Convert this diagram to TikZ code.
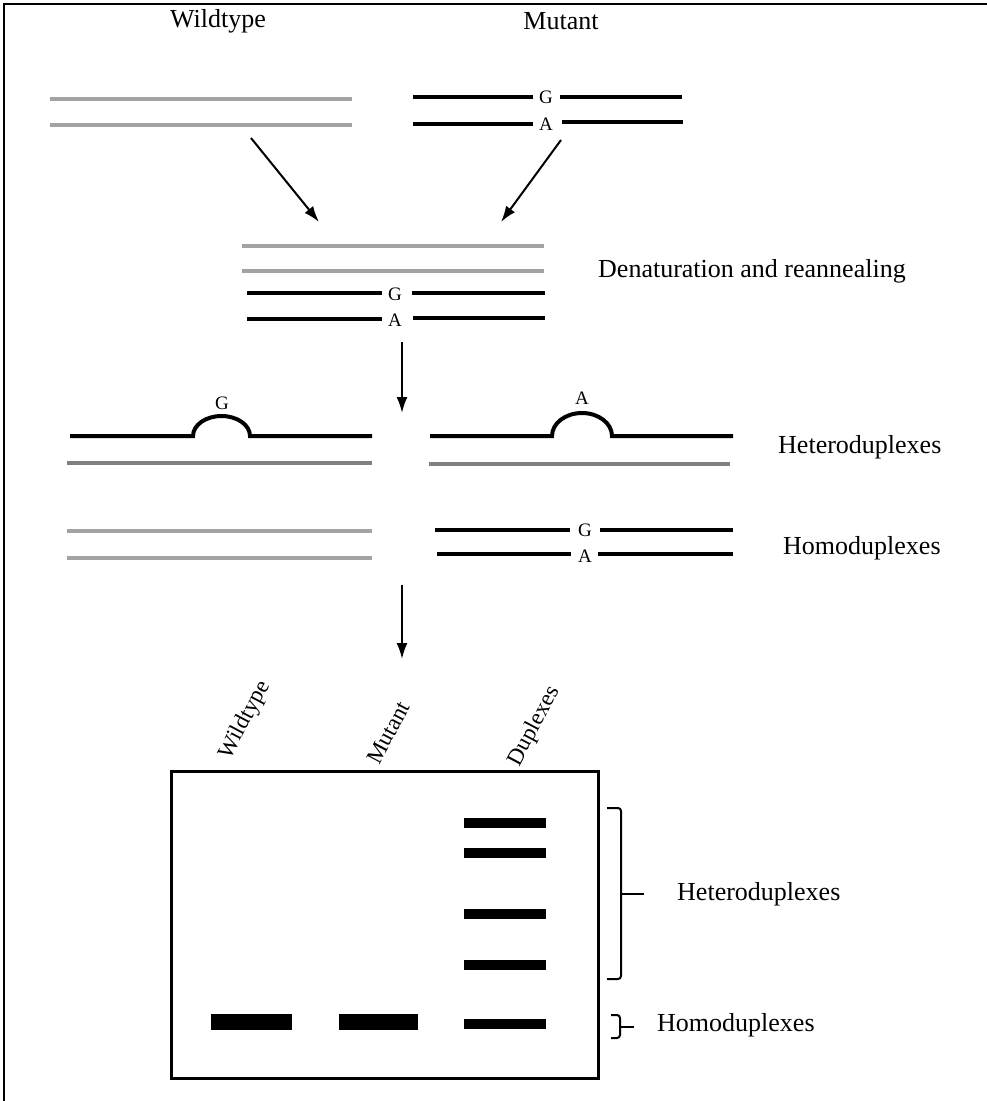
\documentclass[tikz,border=0pt]{standalone}
\usepackage{fontspec}
\setmainfont{Liberation Serif}
\usetikzlibrary{arrows.meta}
\definecolor{lgray}{HTML}{A3A3A3}
\definecolor{dgray}{HTML}{808080}
\tikzset{
  strand/.style={line width=4pt, black},
  wtl/.style={line width=4pt, lgray},
  wtd/.style={line width=4pt, dgray},
  base/.style={font=\fontsize{19}{22}\selectfont, inner sep=0pt},
  lab/.style={font=\fontsize{26}{30}\selectfont, inner sep=0pt, anchor=west},
  toplab/.style={font=\fontsize{26}{30}\selectfont, inner sep=0pt},
  lane/.style={font=\fontsize{23}{27}\selectfont, inner sep=1pt, rotate=62, anchor=south west},
  arr/.style={line width=2pt, -{Latex[length=16pt,width=11pt]}},
  band/.style={fill=black, draw=none},
  brk/.style={line width=2pt, rounded corners=3pt},
}
\begin{document}
\begin{tikzpicture}[x=1pt,y=-1pt]
\useasboundingbox (0,0) rectangle (987,1101);
% frame
\draw[line width=2.5pt] (987,4) -- (4,4) -- (4,1101);

% top labels
\node[toplab] (wt) at (218,21) {Wildtype};
\node[toplab] (mu) at (561,21) {Mutant};

% wildtype strands
\draw[wtl] (50,99) -- (352,99);
\draw[wtl] (50,125) -- (352,125);

% mutant strands
\node[base] (g1) at (546,97) {G};
\node[base] (a1) at (546,124) {A};
\draw[strand] (413,97) -- (533,97);
\draw[strand] (560,97) -- (682,97);
\draw[strand] (413,124) -- (533,124);
\draw[strand] (562,122) -- (683,122);

% arrows to mixture
\coordinate (w1) at (251,138); \coordinate (w2) at (319,222);
\coordinate (m1) at (561,140); \coordinate (m2) at (501,222);
\draw[arr] (w1) -- (w2);
\draw[arr] (m1) -- (m2);

% mixture
\draw[wtl] (242,246) -- (544,246);
\draw[wtl] (242,271) -- (544,271);
\node[base] (g2) at (395,294) {G};
\node[base] (a2) at (395,320) {A};
\draw[strand] (247,293) -- (382,293);
\draw[strand] (412,293) -- (545,293);
\draw[strand] (247,319) -- (382,319);
\draw[strand] (413,318) -- (545,318);
\node[lab] (den) at (598,271) {Denaturation and reannealing};

\coordinate (d1) at (402,342); \coordinate (d2) at (402,413);
\draw[arr] (d1) -- (d2);

% heteroduplexes
\draw[strand] (70,436) -- (193,436)
  .. controls (193,425) and (205.7,416) .. (221.5,416)
  .. controls (237.3,416) and (250,425) .. (250,436) -- (372,436);
\node[base] (g3) at (222,403) {G};
\draw[wtd] (67,463) -- (372,463);
\draw[strand] (430,436) -- (552,436)
  .. controls (552,423.3) and (565.4,413) .. (582,413)
  .. controls (598.6,413) and (612,423.3) .. (612,436) -- (733,436);
\node[base] (a3) at (582,398) {A};
\draw[wtd] (429,464) -- (730,464);
\node[lab] (het1) at (778,447) {Heteroduplexes};

% homoduplexes
\draw[wtl] (67,531) -- (372,531);
\draw[wtl] (67,558) -- (372,558);
\node[base] (g4) at (585,530) {G};
\node[base] (a4) at (585,556) {A};
\draw[strand] (435,530) -- (570,530);
\draw[strand] (600,530) -- (733,530);
\draw[strand] (437,554) -- (571,554);
\draw[strand] (598,554) -- (733,554);
\node[lab] (hom1) at (783,548) {Homoduplexes};

\coordinate (e1) at (402,585); \coordinate (e2) at (402,659);
\draw[arr] (e1) -- (e2);

% gel
\node[draw, line width=2.5pt, minimum width=427pt, minimum height=307pt, inner sep=0pt, anchor=north west] (gel) at (170,770) {};
\node[lane] (lw) at (235,764) {Wildtype};
\node[lane] (lm) at (380,767) {Mutant};
\node[lane] (ld) at (524,771) {Duplexes};

% bands
\fill[band] (211,1014) rectangle (292,1030);
\fill[band] (339,1014) rectangle (418,1030);
\fill[band] (464,818) rectangle (546,828);
\fill[band] (464,848) rectangle (546,858);
\fill[band] (464,909) rectangle (546,919);
\fill[band] (464,960) rectangle (546,970);
\fill[band] (464,1019) rectangle (546,1029);

% brackets
\draw[brk] (607,808) -- (621,808) -- (621,979) -- (607,979);
\draw[line width=2pt] (621,894) -- (644,894);
\node[lab] (het2) at (677,894) {Heteroduplexes};
\draw[brk] (611,1015) -- (620,1015) -- (620,1038) -- (611,1038);
\draw[line width=2pt] (620,1027) -- (634,1027);
\node[lab] (hom2) at (657,1025) {Homoduplexes};
\end{tikzpicture}
\end{document}
